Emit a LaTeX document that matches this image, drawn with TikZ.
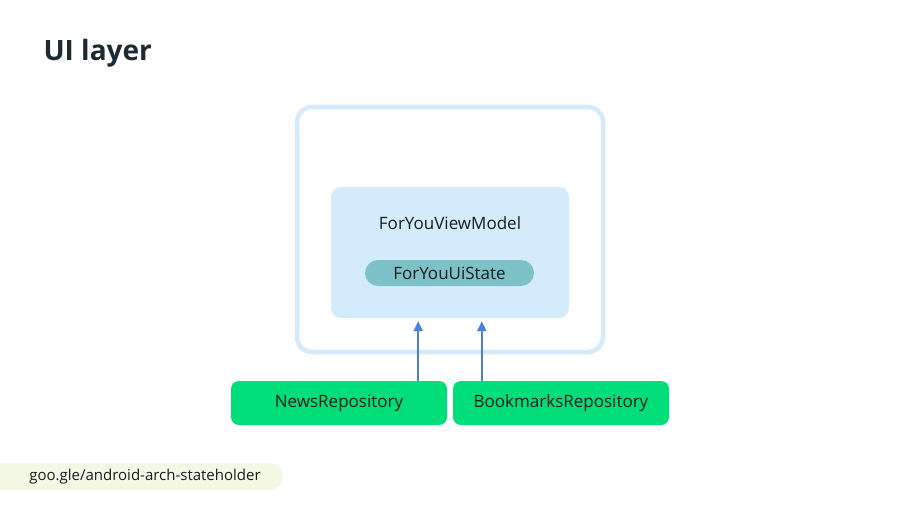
\documentclass[tikz,border=0pt]{standalone}
\usepackage{fontspec}
\setmainfont{Open Sans}
\usetikzlibrary{positioning,arrows.meta}

\definecolor{framebl}{HTML}{D6EBFA}
\definecolor{vmbl}{HTML}{D3EBFB}
\definecolor{statet}{HTML}{7CC2C8}
\definecolor{repogr}{HTML}{00DE7A}
\definecolor{arrbl}{HTML}{4A7FDF}
\definecolor{titled}{HTML}{1B2A33}
\definecolor{linkbg}{HTML}{F3F8E4}
\definecolor{txtd}{HTML}{1A1C1E}

\tikzset{
  lbl/.style={font=\fontsize{17}{20}\selectfont,text=txtd},
  repo/.style={rectangle,rounded corners=8pt,fill=repogr,minimum width=216pt,minimum height=44pt,lbl},
  arr/.style={-{Triangle[length=10pt,width=9pt]},draw=arrbl,fill=arrbl,line width=2pt,shorten >=3pt}
}

\begin{document}
\begin{tikzpicture}[x=1pt,y=-1pt]
  \useasboundingbox (0,0) rectangle (900,506);
  \fill[white] (0,0) rectangle (900,506);

  \node[anchor=west,font=\fontsize{28}{33}\bfseries\selectfont,text=titled] (title) at (40,53) {UI layer}; % Title

  \node[draw=framebl,line width=4.5pt,rounded corners=15pt,minimum width=306pt,minimum height=245pt] (ui) at (450,229.5) {}; % UI frame
  \node[fill=vmbl,rounded corners=10pt,minimum width=238pt,minimum height=131pt] (vm) at (450,252.5) {}; % ViewModel
  \node[lbl] (vmname) at (450,223) {ForYouViewModel};
  \node[fill=statet,rounded corners=13pt,minimum width=169pt,minimum height=26pt,lbl] (state) at (449.5,273) {ForYouUiState};

  \node[repo] (news) at (339,403) {NewsRepository};
  \node[repo] (bookmarks) at (561,403) {BookmarksRepository};

  \draw[arr] ([xshift=-29pt]news.north east) -- ([xshift=-29pt]news.north east |- vm.south);
  \draw[arr] ([xshift=29pt]bookmarks.north west) -- ([xshift=29pt]bookmarks.north west |- vm.south);

  % Link
  \fill[linkbg,rounded corners=13pt] (-20,463) rectangle (283,490);
  \node[font=\fontsize{15}{18}\selectfont,text=txtd] (link) at (145,476.5) {goo.gle/android-arch-stateholder};
\end{tikzpicture}
\end{document}
